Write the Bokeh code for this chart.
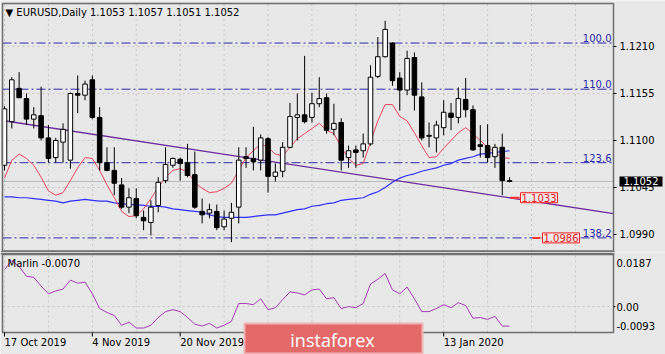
from bokeh.plotting import figure
from bokeh.layouts import column
from bokeh.models import Range1d, Label
from bokeh.embed import file_html
from bokeh.resources import INLINE
from bokeh.core.properties import value

# ---------------- data (EURUSD daily) ----------------
open_ = [1.1071, 1.1122, 1.1161, 1.1149, 1.1125, 1.1129, 1.1103, 1.1080, 1.1098, 1.1077,
         1.1155, 1.1153, 1.1171, 1.1127, 1.1074, 1.1065, 1.1048, 1.1022, 1.1032, 1.1010,
         1.1004, 1.1024, 1.1053, 1.1071, 1.1078, 1.1074, 1.1060, 1.1017, 1.1015, 1.1017,
         1.0999, 1.1009, 1.1022, 1.1081, 1.1079, 1.1077, 1.1102, 1.1058, 1.1064, 1.1092,
         1.1127, 1.1130, 1.1127, 1.1143, 1.1150, 1.1113, 1.1121, 1.1080, 1.1089, 1.1088,
         1.1096, 1.1175, 1.1198, 1.1214, 1.1173, 1.1159, 1.1197, 1.1151, 1.1106, 1.1103,
         1.1115, 1.1132, 1.1127, 1.1148, 1.1136, 1.1095, 1.1094, 1.1081, 1.1092, 1.1053]
high = [1.1140, 1.1174, 1.1180, 1.1155, 1.1139, 1.1163, 1.1118, 1.1103, 1.1120, 1.1156,
        1.1176, 1.1170, 1.1176, 1.1139, 1.1092, 1.1092, 1.1056, 1.1044, 1.1044, 1.1018,
        1.1030, 1.1057, 1.1092, 1.1080, 1.1080, 1.1096, 1.1087, 1.1032, 1.1026, 1.1025,
        1.1018, 1.1027, 1.1092, 1.1092, 1.1116, 1.1107, 1.1104, 1.1073, 1.1098, 1.1144,
        1.1155, 1.1199, 1.1156, 1.1174, 1.1155, 1.1143, 1.1126, 1.1094, 1.1094, 1.1108,
        1.1188, 1.1221, 1.1240, 1.1215, 1.1180, 1.1205, 1.1203, 1.1168, 1.1121, 1.1123,
        1.1147, 1.1144, 1.1162, 1.1173, 1.1141, 1.1118, 1.1119, 1.1096, 1.1108, 1.1057]
low = [1.1065, 1.1114, 1.1150, 1.1118, 1.1114, 1.1100, 1.1074, 1.1074, 1.1074, 1.1067,
       1.1132, 1.1147, 1.1125, 1.1065, 1.1064, 1.1036, 1.1020, 1.1015, 1.1009, 1.0995,
       1.0989, 1.1016, 1.1050, 1.1068, 1.1053, 1.1057, 1.1020, 1.1003, 1.1009, 1.0995,
       1.0995, 1.0981, 1.1003, 1.1068, 1.1065, 1.1065, 1.1039, 1.1052, 1.1057, 1.1091,
       1.1100, 1.1120, 1.1121, 1.1139, 1.1108, 1.1106, 1.1065, 1.1068, 1.1068, 1.1080,
       1.1094, 1.1173, 1.1197, 1.1164, 1.1135, 1.1153, 1.1135, 1.1100, 1.1092, 1.1086,
       1.1106, 1.1112, 1.1120, 1.1127, 1.1088, 1.1080, 1.1074, 1.1068, 1.1036, 1.1051]
close = [1.1137, 1.1171, 1.1150, 1.1125, 1.1130, 1.1103, 1.1079, 1.1100, 1.1113, 1.1155,
         1.1153, 1.1166, 1.1127, 1.1074, 1.1065, 1.1050, 1.1022, 1.1033, 1.1012, 1.1006,
         1.1022, 1.1051, 1.1072, 1.1079, 1.1073, 1.1059, 1.1022, 1.1013, 1.1019, 1.0998,
         1.1008, 1.1016, 1.1077, 1.1079, 1.1075, 1.1103, 1.1058, 1.1063, 1.1092, 1.1128,
         1.1130, 1.1122, 1.1143, 1.1149, 1.1112, 1.1120, 1.1077, 1.1088, 1.1086, 1.1096,
         1.1174, 1.1198, 1.1230, 1.1170, 1.1159, 1.1196, 1.1153, 1.1103, 1.1105, 1.1118,
         1.1133, 1.1127, 1.1149, 1.1136, 1.1089, 1.1093, 1.1080, 1.1092, 1.1053, 1.1052]

ma_fast = [1.1056, 1.1077, 1.1084, 1.1079, 1.1071, 1.1057, 1.1041, 1.1036, 1.1039, 1.1053,
           1.1068, 1.1080, 1.1079, 1.1065, 1.1048, 1.1033, 1.1017, 1.1011, 1.1012, 1.1020,
           1.1032, 1.1045, 1.1057, 1.1065, 1.1067, 1.1063, 1.1051, 1.1044, 1.1039, 1.1040,
           1.1044, 1.1050, 1.1065, 1.1080, 1.1088, 1.1096, 1.1092, 1.1084, 1.1082, 1.1092,
           1.1102, 1.1108, 1.1114, 1.1120, 1.1112, 1.1108, 1.1092, 1.1079, 1.1071, 1.1073,
           1.1098, 1.1123, 1.1142, 1.1142, 1.1128, 1.1123, 1.1109, 1.1094, 1.1080, 1.1081,
           1.1091, 1.1100, 1.1109, 1.1115, 1.1108, 1.1100, 1.1092, 1.1086, 1.1080, 1.1079]
ma_slow = [1.1034, 1.1034, 1.1033, 1.1033, 1.1032, 1.1031, 1.1030, 1.1029, 1.1027, 1.1029,
           1.1030, 1.1031, 1.1030, 1.1029, 1.1029, 1.1027, 1.1026, 1.1025, 1.1025, 1.1024,
           1.1023, 1.1023, 1.1022, 1.1020, 1.1019, 1.1018, 1.1017, 1.1016, 1.1013, 1.1011,
           1.1010, 1.1010, 1.1010, 1.1010, 1.1011, 1.1012, 1.1013, 1.1013, 1.1015, 1.1017,
           1.1019, 1.1020, 1.1023, 1.1024, 1.1026, 1.1027, 1.1030, 1.1031, 1.1032, 1.1033,
           1.1037, 1.1040, 1.1045, 1.1051, 1.1056, 1.1059, 1.1061, 1.1064, 1.1066, 1.1068,
           1.1071, 1.1073, 1.1077, 1.1079, 1.1081, 1.1084, 1.1085, 1.1086, 1.1087, 1.1088]
marlin = [0.0133, 0.0165, 0.0144, 0.0109, 0.0105, 0.0074, 0.0046, 0.0056, 0.0063, 0.0095,
          0.0084, 0.0088, 0.0046, -0.0007, -0.0021, -0.0032, -0.0067, -0.0056, -0.0077, -0.0077,
          -0.0067, -0.0039, -0.0018, -0.0011, -0.0018, -0.0039, -0.0063, -0.0070, -0.0060, -0.0077,
          -0.0067, -0.0053, 0.0011, 0.0011, 0.0007, 0.0028, -0.0011, -0.0004, 0.0025, 0.0053,
          0.0049, 0.0042, 0.0060, 0.0063, 0.0028, 0.0032, -0.0007, 0.0000, -0.0004, 0.0011,
          0.0081, 0.0098, 0.0119, 0.0060, 0.0046, 0.0070, 0.0028, -0.0018, -0.0018, -0.0007,
          0.0007, -0.0004, 0.0014, 0.0004, -0.0042, -0.0039, -0.0046, -0.0035, -0.0070, -0.0070]

trend_x = [0, 69]
trend_y = [1.1123, 1.1033]
fib_levels = [1.1214, 1.1160, 1.1074, 1.0986]
fib_labels = ["100.0", "110.0", "123.6", "138.2"]
price_ticks = [1.0990, 1.1045, 1.1100, 1.1155, 1.1210]
price_tick_labels = ["1.0990", "1.1045", "1.1100", "1.1155", "1.1210"]
date_ticks = [0, 12, 24, 60]
date_labels = ["17 Oct 2019", "4 Nov 2019", "20 Nov 2019", "13 Jan 2020"]
marlin_tick_labels = ["0.0187", "0.00", "-0.0093"]
price_marks = [1.1033, 1.0986]
title_text = "\u25BC EURUSD,Daily  1.1053 1.1057 1.1051 1.1052"
marlin_text = "Marlin -0.0070"
brand_text = "instaforex"
last_price = close[-1]

# ---------------- layout helpers (pixel geometry of the terminal window) ----------------
PX0, PXB = 4.0, 7.32                 # pixel of bar 0, pixels per bar
P_TOP, P_PER_PX = 1.12638, 0.00011702
M_TOP_PY, M_TOP_V, M_PER_PX = 254.0, 0.0187, 0.028 / 78.0


def bx(px):
    return (px - PX0) / PXB


def pr(py):
    return P_TOP - py * P_PER_PX


def mv(py):
    return M_TOP_V - (py - M_TOP_PY) * M_PER_PX


BG = "#e8e8e8"
GRID = "#c6c6c6"
FRAME = "#6e6e6e"
FONT = "DejaVu Sans"
FIB = "#2a2aa8"
FS = "10px"

L, R = bx(2), bx(613)
n = len(close)
idx = list(range(n))
vgrid = [t for t in range(0, 90, 6) if t <= R]

# ======================= main price panel =======================
p = figure(width=665, height=252, x_range=Range1d(bx(0), bx(665)), y_range=Range1d(pr(252), pr(0)),
           output_backend="svg", toolbar_location=None, x_axis_location=None,
           y_axis_location=None, min_border=0)
p.min_border_left = p.min_border_right = p.min_border_top = p.min_border_bottom = 0
p.background_fill_color = BG
p.border_fill_color = BG
p.outline_line_color = None
p.grid.visible = False

top_m, bot_m = pr(3), pr(250.5)
# grid
p.multi_line([[t, t] for t in vgrid], [[bot_m, top_m]] * len(vgrid), line_color=GRID,
             line_dash="2 3", line_width=1)
p.multi_line([[L, R]] * len(price_ticks), [[t, t] for t in price_ticks], line_color=GRID,
             line_dash="2 3", line_width=1)
# current price line
p.line([L, R], [last_price, last_price], line_color="#bcbcbc", line_width=1)
# fibonacci levels
p.multi_line([[L, R]] * len(fib_levels), [[f, f] for f in fib_levels], line_color=FIB,
             line_dash="9 3 2 3", line_width=1)
p.text(x=[bx(611)] * len(fib_levels), y=fib_levels, text=fib_labels, text_align="right",
       text_baseline="bottom", y_offset=-1, text_font=value(FONT), text_font_size=FS,
       text_color=FIB)
# trend line through the frame
slope = (trend_y[1] - trend_y[0]) / (trend_x[1] - trend_x[0])
p.line([L, R], [trend_y[0] + slope * (v - trend_x[0]) for v in (L, R)],
       line_color="#6b2c9c", line_width=1.3)
# moving averages
p.line(idx, ma_slow, line_color="#3030ff", line_width=1.2)
p.line(idx, ma_fast, line_color="#e8465e", line_width=1)
# candles
up = [c >= o for o, c in zip(open_, close)]
p.segment(idx, high, idx, low, line_color="#000000", line_width=1)
ux = [i for i in idx if up[i]]
dx = [i for i in idx if not up[i]]
p.vbar(x=ux, width=0.62, top=[close[i] for i in ux], bottom=[open_[i] for i in ux],
       fill_color="#ffffff", line_color="#000000", line_width=1)
p.vbar(x=dx, width=0.62, top=[open_[i] for i in dx], bottom=[close[i] for i in dx],
       fill_color="#000000", line_color="#000000", line_width=1)
# red price marks
last_i = n - 1
p.segment([bx(510), bx(532)], price_marks, [bx(519), bx(540)], price_marks,
          line_color="#ff3030", line_width=2)
for pm, px in zip(price_marks, (520, 542)):
    p.add_layout(Label(x=bx(px), y=pm, text=f"{pm:.4f}", text_align="left",
                       text_baseline="middle", text_font=FONT, text_font_size=FS,
                       text_color="#e02020", border_line_color="#ff2020", border_line_width=1,
                       background_fill_color="#eee8e8", padding=(1, 1)))
# frame and panel separator
p.quad(left=[L], right=[R], top=[top_m], bottom=[bot_m], fill_color=None,
       line_color=FRAME, line_width=1.5)
p.quad(left=[bx(0)], right=[bx(614)], top=[pr(250.5)], bottom=[pr(253)], fill_color="#767676",
       line_color=None)
# price scale
p.segment([R] * len(price_ticks), price_ticks, [bx(616)] * len(price_ticks), price_ticks,
          line_color="#000000", line_width=1)
p.text(x=[bx(619)] * len(price_ticks), y=price_ticks, text=price_tick_labels, text_align="left",
       text_baseline="middle", text_font=value(FONT), text_font_size=FS, text_color="#000000")
p.add_layout(Label(x=bx(619), y=last_price, text=f"{last_price:.4f}", text_align="left",
                   text_baseline="middle", text_font=FONT, text_font_size=FS,
                   text_color="#ffffff", background_fill_color="#000000", padding=(4, 1)))
# title
p.text(x=[bx(5)], y=[pr(12)], text=[title_text], text_align="left", text_baseline="middle",
       text_font=value(FONT), text_font_size=FS, text_color="#000000")

# ======================= Marlin panel + time scale =======================
q = figure(width=665, height=102, x_range=p.x_range, y_range=Range1d(mv(354), mv(252)),
           output_backend="svg", toolbar_location=None, x_axis_location=None,
           y_axis_location=None, min_border=0)
q.min_border_left = q.min_border_right = q.min_border_top = q.min_border_bottom = 0
q.background_fill_color = BG
q.border_fill_color = BG
q.outline_line_color = None
q.grid.visible = False

top_s, bot_s = mv(254), mv(332)
q.quad(left=[bx(0)], right=[bx(614)], top=[mv(252)], bottom=[mv(254)], fill_color="#767676",
       line_color=None)
q.multi_line([[t, t] for t in vgrid], [[bot_s, top_s]] * len(vgrid), line_color=GRID,
             line_dash="2 3", line_width=1)
q.line([L, R], [0.0, 0.0], line_color=GRID, line_dash="2 3", line_width=1)
q.line(idx, marlin, line_color="#a43cb4", line_width=1)
q.quad(left=[L], right=[R], top=[top_s], bottom=[bot_s], fill_color=None,
       line_color=FRAME, line_width=1.5)
q.text(x=[bx(7)], y=[mv(263)], text=[marlin_text], text_align="left", text_baseline="middle",
       text_font=value(FONT), text_font_size=FS, text_color="#000000")
# indicator scale
q.segment([R], [0.0], [bx(615)], [0.0], line_color="#000000", line_width=1)
q.text(x=[bx(616)] * 3, y=[mv(262), mv(306.5), mv(325)], text=marlin_tick_labels,
       text_align="left", text_baseline="middle", text_font=value(FONT), text_font_size=FS,
       text_color="#000000")
# time scale
q.segment(date_ticks, [bot_s] * len(date_ticks), date_ticks, [mv(336)] * len(date_ticks),
          line_color="#000000", line_width=1)
q.text(x=date_ticks, y=[mv(342)] * len(date_ticks), text=date_labels, text_align="left",
       text_baseline="middle", text_font=value(FONT), text_font_size=FS, text_color="#000000")
# watermark
q.quad(left=[bx(244)], right=[bx(422)], top=[mv(323)], bottom=[mv(353)], fill_color="#e46a6a",
       line_color="#f0b4b4", line_width=2)
q.text(x=[bx(332)], y=[mv(339)], text=[brand_text], text_align="center", text_baseline="middle",
       text_font=value("Open Sans"), text_font_size="18px", text_color="#ffffff")

layout = column(p, q, spacing=0)
open("out.html", "w").write(file_html(layout, INLINE))
